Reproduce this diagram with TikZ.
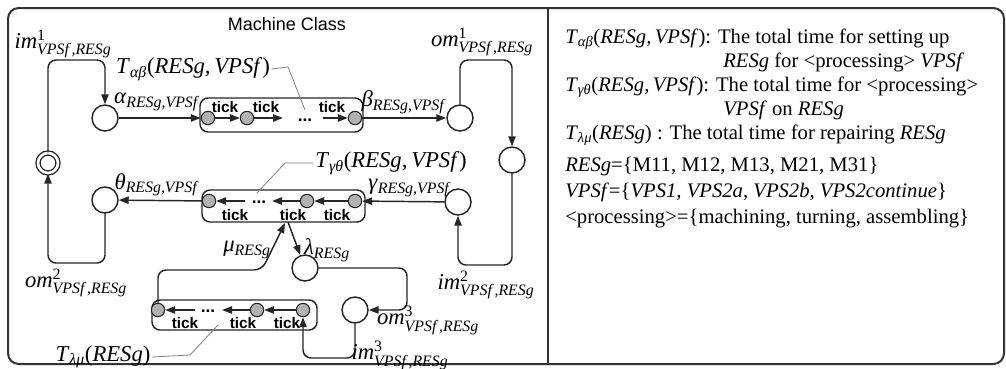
\documentclass[tikz,border=0pt]{standalone}
\usepackage{fontspec}
\usepackage{amsmath}
\setmainfont{Liberation Serif}
\newfontfamily\arialf{Liberation Sans}
\usetikzlibrary{arrows.meta}
\newcommand{\sx}[3]{\textit{#1}$^{\text{#2}}_{\text{\itshape #3}}$}
\newcommand{\gs}[2]{\textit{#1}$_{\text{\itshape #2}}$}
\newcommand{\Tt}[2]{\textit{T}$_{\text{\itshape #1}}$(\textit{#2})}
\begin{document}
\begin{tikzpicture}[x=0.75pt,y=-0.75pt,
  conn/.style={line width=1.1pt, rounded corners=6pt, black!85},
  arr/.style={conn,-{Triangle[length=7.5pt,width=5.5pt]}},
  place/.style={circle,draw,black!85,line width=1.1pt,minimum size=19.5pt,inner sep=0pt},
  dplace/.style={circle,draw,black!85,line width=1pt,double,double distance=2pt,minimum size=15pt,inner sep=0pt},
  dot/.style={circle,draw,black!85,line width=0.8pt,fill=gray!60,minimum size=10pt,inner sep=0pt},
  tickbox/.style={draw,black!85,line width=1.1pt,rounded corners=6pt,inner sep=0pt},
  lab/.style={font=\fontsize{17}{19}\selectfont,inner sep=1pt},
  tick/.style={font=\arialf\bfseries\fontsize{11.5}{12}\selectfont,inner sep=0pt},
  ell/.style={font=\arialf\bfseries\fontsize{13}{13}\selectfont,inner sep=0pt},
  lead/.style={gray,line width=0.6pt},
  txt/.style={font=\fontsize{15.5}{17}\selectfont,anchor=base west,inner sep=0pt}
]
\useasboundingbox (0,0) rectangle (1006,368);
\fill[white] (0,0) rectangle (1006,368);
% frame
\draw[line width=1.5pt, rounded corners=8pt, black!80] (8,8) rectangle (1004,364);
\draw[line width=1.3pt, black!80] (548,8) -- (548,364);
\node[font=\arialf\fontsize{13.5}{15}\selectfont] (title) at (287,24) {Machine Class};

% places
\node[place] (c1) at (105,118) {};
\node[dplace] (dc) at (48,163) {};
\node[place] (c2) at (460,118) {};
\node[place] (c3) at (512,160) {};
\node[place] (c4) at (458,202) {};
\node[place] (c5) at (105,200) {};
\node[place] (c6) at (305,268) {};
\node[place] (c7) at (355,310) {};

% tick boxes
\node[tickbox,minimum width=122.25pt,minimum height=25.5pt] (b1) at (281.5,115) {};
\node[tickbox,minimum width=122.25pt,minimum height=24pt] (b2) at (283.5,206) {};
\node[tickbox,minimum width=123.75pt,minimum height=22.5pt] (b3) at (234.5,315) {};

% dots
\node[dot] (a1) at (208,118) {};
\node[dot] (a2) at (247,118) {};
\node[dot] (a3) at (355,118) {};
\node[dot] (g1) at (209,201) {};
\node[dot] (g2) at (307,201) {};
\node[dot] (g3) at (355,201) {};
\node[dot] (l1) at (158,310) {};
\node[dot] (l2) at (257,310) {};
\node[dot] (l3) at (303,310) {};

% row 1 inner
\coordinate (a2e) at (283,118);
\coordinate (a3s) at (323,118);
\draw[arr] (a1) -- (a2);
\draw[arr] (a2) -- (a2e);
\draw[arr] (a3s) -- (a3);
\node[ell] (e1) at (305,120) {...};
\node[tick] (t11) at (225,107) {tick};
\node[tick] (t12) at (266,107) {tick};
\node[tick] (t13) at (332,107) {tick};

% row 2 inner
\coordinate (g2w) at (272,201);
\coordinate (g1s) at (245,201);
\draw[arr] (g3) -- (g2);
\draw[arr] (g2) -- (g2w);
\draw[arr] (g1s) -- (g1);
\node[ell] (e2) at (259,202) {...};
\node[tick] (t21) at (235,215) {tick};
\node[tick] (t22) at (293,215) {tick};
\node[tick] (t23) at (337,215) {tick};

% row 3 inner
\coordinate (l2w) at (222,310);
\coordinate (l1s) at (195,310);
\draw[arr] (l3) -- (l2);
\draw[arr] (l2) -- (l2w);
\draw[arr] (l1s) -- (l1);
\node[ell] (e3) at (208,311) {...};
\node[tick] (t31) at (185,323) {tick};
\node[tick] (t32) at (243,323) {tick};
\node[tick] (t33) at (287,323) {tick};

% connectors
\coordinate (k1) at (512,60);
\coordinate (k3) at (458,265);
\coordinate (k4) at (48,263);
\coordinate (k5) at (105,60);
\coordinate (k6) at (262,270);
\coordinate (k7) at (407,310);
\coordinate (k8) at (303,358);
\coordinate (b2a) at (288,222);
\coordinate (b2b) at (285,223);
\draw[arr] (c1) -- (a1);
\draw[arr] (a3) -- (c2);
\draw[arr] (c2.north) |- (k1) -- (c3.north);
\draw[arr] (c3.south) |- (k3) -- (c4.south);
\draw[arr] (c4) -- (g3);
\draw[arr] (g1) -- (c5);
\draw[arr] (c5.south) |- (k4) -- (dc.south);
\draw[arr] (dc.north) |- (k5) -- (c1.north);
\draw[arr] (b2a) -- (c6);
\draw[arr] (l1.north) |- (k6) -- (b2b);
\draw[arr] (c6.east) -| (k7) -- (c7.east);
\draw[arr] (c7.south) |- (k8) -- (l3.south);

% labels
\node[lab] (im1) at (63,44) {\sx{im}{1}{VPSf\,,RESg}};
\node[lab] (al) at (156,102) {\gs{α}{RESg,VPSf}};
\node[lab] (Tab) at (193,69) {\Tt{αβ}{RESg,\,VPSf}};
\node[lab] (be) at (403,102) {\gs{β}{RESg,VPSf}};
\node[lab] (om1) at (482,42) {\sx{om}{1}{VPSf\,,RESg}};
\node[lab] (Tgt) at (391,163) {\Tt{γθ}{RESg,\,VPSf}};
\node[lab] (ga) at (409,188) {\gs{γ}{RESg,VPSf}};
\node[lab] (th) at (156,185) {\gs{θ}{RESg,VPSf}};
\node[lab] (om2) at (76,283) {\sx{om}{2}{VPSf\,,RESg}};
\node[lab] (im2) at (486,285) {\sx{im}{2}{VPSf\,,RESg}};
\node[lab] (mu) at (247,250) {\gs{μ}{RESg}};
\node[lab] (la) at (327,250) {\gs{λ}{RESg}};
\node[lab] (om3) at (428,320) {\sx{om}{3}{VPSf\,,RESg}};
\node[lab] (im3) at (400,355) {\sx{im}{3}{VPSf\,,RESg}};
\node[lab] (Tlm) at (103,357) {\Tt{λμ}{RESg}};

% leader lines
\coordinate (p1) at (288,67);
\coordinate (p2) at (305,110);
\coordinate (q1) at (285,163);
\coordinate (q2) at (257,193);
\coordinate (r1) at (190,355);
\coordinate (r2) at (218,325);
\draw[lead] (Tab.east) -- (p1) -- (p2);
\draw[lead] (Tgt.west) -- (q1) -- (q2);
\draw[lead] (Tlm.east) -- (r1) -- (r2);

% right panel
\node[txt] (x1) at (565,43) {\Tt{αβ}{RESg,\,VPSf}: The total time for setting up};
\node[txt] (x2) at (723,67) {\textit{RESg} for <processing> \textit{VPSf}};
\node[txt] (x3) at (565,91) {\Tt{γθ}{RESg,\,VPSf}: The total time for <processing>};
\node[txt] (x4) at (723,115) {\textit{VPSf} on \textit{RESg}};
\node[txt] (x5) at (565,139) {\Tt{λμ}{RESg} : The total time for repairing \textit{RESg}};
\node[txt] (x6) at (565,171) {\textit{RESg}=\{M11, M12, M13, M21, M31\}};
\node[txt] (x7) at (565,197) {\textit{VPSf}=\{\textit{VPS1}, \textit{VPS2a}, \textit{VPS2b}, \textit{VPS2continue}\}};
\node[txt] (x8) at (565,223) {<processing>=\{machining, turning, assembling\}};
\end{tikzpicture}
\end{document}
